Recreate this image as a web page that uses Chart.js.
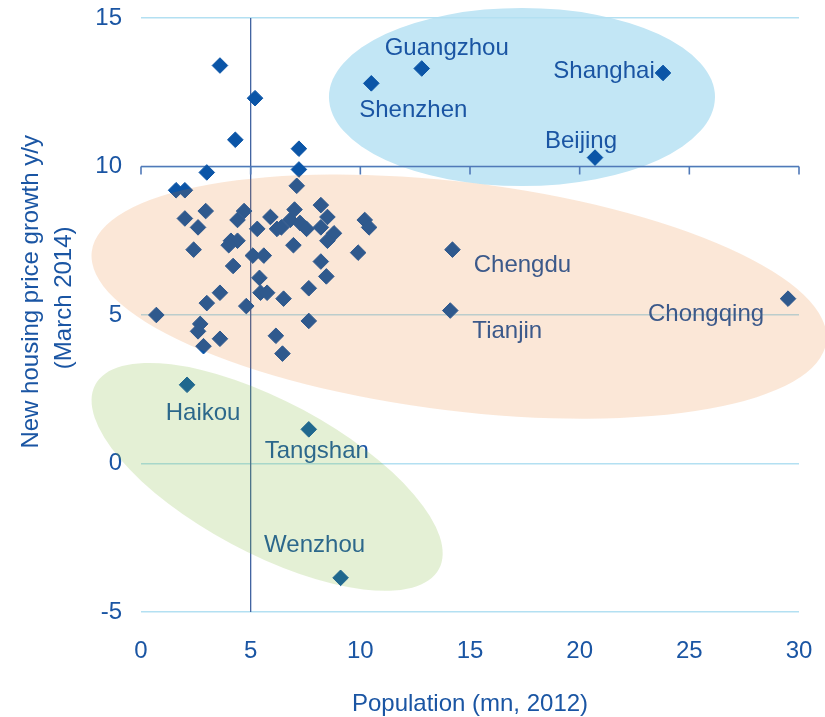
<!DOCTYPE html>
<html>
<head>
<meta charset="utf-8">
<script src="https://cdn.jsdelivr.net/npm/chart.js@4.4.1/dist/chart.umd.min.js"></script>
<style>
  html, body { margin: 0; padding: 0; background: #ffffff; }
  #wrap { width: 825px; height: 717px; position: relative; }
</style>
</head>
<body>
<div id="wrap"><canvas id="c" width="825" height="717"></canvas></div>
<script>
// ---------- DATA ----------
// Unlabelled cities: population (mn, 2012) and new housing price growth y/y (March 2014)
const otherPopulation = [
  3.6, 5.2, 4.3, 7.2, 7.2, 3.0,
  1.6, 2.0, 7.1, 2.0, 2.95, 2.6, 4.4, 4.7, 5.9, 5.3, 6.2,
  7.0, 8.2, 8.5, 6.8, 7.25, 7.55, 6.4, 8.2, 8.8, 8.5, 10.2, 10.4,
  2.4, 4.1, 4.4, 4.0, 5.1, 5.6, 6.95, 9.9, 4.2, 8.2, 8.45, 5.4,
  7.65, 5.45, 5.75, 3.6, 3.0, 4.8, 6.5, 0.7, 7.65, 2.7, 2.6,
  3.6, 2.85, 6.15, 6.45
];
const otherGrowth = [
  13.4, 12.3, 10.9, 10.6, 9.9, 9.8,
  9.2, 9.2, 9.35, 8.25, 8.5, 7.95, 8.2, 8.5, 8.3, 7.9, 7.9,
  8.55, 8.7, 8.3, 8.2, 8.1, 7.9, 7.95, 7.95, 7.75, 7.5, 8.2, 7.95,
  7.2, 7.5, 7.5, 7.35, 7.0, 7.0, 7.35, 7.1, 6.65, 6.8, 6.3, 6.25,
  5.9, 5.75, 5.75, 5.75, 5.4, 5.3, 5.55, 5.0, 4.8, 4.7, 4.45,
  4.2, 3.95, 4.3, 3.7
];
// Labelled cities
const cityNames      = ["Guangzhou", "Shenzhen", "Shanghai", "Beijing", "Chengdu", "Tianjin", "Chongqing", "Haikou", "Tangshan", "Wenzhou"];
const cityPopulation = [12.8, 10.5, 23.8, 20.7, 14.2, 14.1, 29.5, 2.1, 7.65, 9.1];
const cityGrowth     = [13.3, 12.8, 13.15, 10.3, 7.2, 5.15, 5.55, 2.65, 1.15, -3.85];

// Axis ticks
const xTickValues = [0, 5, 10, 15, 20, 25, 30];
const yTickValues = [-5, 0, 5, 10, 15];

// ---------- STYLE ----------
const FONT = "'Liberation Sans', Arial, Helvetica, sans-serif";
const TEXT = '#1a55a3';
const MARK = '#0b55a7';

// label placement (pixel offset from its point; text centered on dx, baseline at dy)
const labelStyle = {
  Guangzhou: { dx: 25, dy: -13 },
  Shenzhen:  { dx: 42, dy: 34 },
  Shanghai:  { dx: -59, dy: 5 },
  Beijing:   { dx: -14, dy: -10 },
  Chengdu:   { dx: 70, dy: 22 },
  Tianjin:   { dx: 57, dy: 27 },
  Chongqing: { dx: -82, dy: 22 },
  Haikou:    { dx: 16, dy: 35 },
  Tangshan:  { dx: 8, dy: 29 },
  Wenzhou:   { dx: -26, dy: -26 }
};

// shaded groups (centre in data units; radii in axis units; rotation in degrees)
const groupShapes = {
  tier1:  { cx: 17.37, cy: 12.34, rx: 8.8,  ry: 3.0,  rot: 0,    fill: '#c2e6f5', layer: 'back' },
  middle: { cx: 14.5,  cy: 5.62,  rx: 16.87, ry: 3.85, rot: 7,   fill: 'rgba(228,108,10,0.165)', layer: 'front' },
  weak:   { cx: 5.75,  cy: -0.45, rx: 8.89, ry: 2.56, rot: 28.2, fill: 'rgba(118,182,45,0.2)', layer: 'front' }
};

function drawShape(chart, s) {
  const xs = chart.scales.x, ys = chart.scales.y, ctx = chart.ctx;
  const cx = xs.getPixelForValue(s.cx), cy = ys.getPixelForValue(s.cy);
  const rx = Math.abs(xs.getPixelForValue(s.rx) - xs.getPixelForValue(0));
  const ry = Math.abs(ys.getPixelForValue(s.ry) - ys.getPixelForValue(0));
  ctx.save();
  ctx.beginPath();
  ctx.ellipse(cx, cy, rx, ry, s.rot * Math.PI / 180, 0, Math.PI * 2);
  ctx.fillStyle = s.fill;
  ctx.fill();
  ctx.restore();
}

const decorPlugin = {
  id: 'decor',
  beforeDraw(chart) {
    Object.values(groupShapes).filter(s => s.layer === 'back').forEach(s => drawShape(chart, s));
  },
  beforeDatasetsDraw(chart) {
    const ctx = chart.ctx, xs = chart.scales.x, ys = chart.scales.y, a = chart.chartArea;
    ctx.save();
    // vertical axis line at x = 5
    const x5 = xs.getPixelForValue(5);
    ctx.strokeStyle = '#3f62a0';
    ctx.lineWidth = 1.3;
    ctx.beginPath();
    ctx.moveTo(x5, a.top);
    ctx.lineTo(x5, a.bottom);
    ctx.stroke();
    // horizontal axis at y = 10 with tick marks
    const y10 = ys.getPixelForValue(10);
    ctx.strokeStyle = '#5079b8';
    ctx.lineWidth = 1.6;
    ctx.beginPath();
    ctx.moveTo(a.left, y10);
    ctx.lineTo(a.right, y10);
    xTickValues.forEach(v => {
      const px = xs.getPixelForValue(v);
      ctx.moveTo(px, y10);
      ctx.lineTo(px, y10 + 8);
    });
    ctx.stroke();
    ctx.restore();
  },
  afterDatasetsDraw(chart) {
    const ctx = chart.ctx, xs = chart.scales.x, ys = chart.scales.y;
    ctx.save();
    ctx.font = '24px ' + FONT;
    ctx.fillStyle = TEXT;
    ctx.textAlign = 'center';
    ctx.textBaseline = 'alphabetic';
    cityNames.forEach((name, i) => {
      const st = labelStyle[name];
      const px = xs.getPixelForValue(cityPopulation[i]);
      const py = ys.getPixelForValue(cityGrowth[i]);
      ctx.fillText(name, px + st.dx, py + st.dy);
    });
    ctx.restore();
    Object.values(groupShapes).filter(s => s.layer === 'front').forEach(s => drawShape(chart, s));
  },
  afterDraw(chart) {
    // y axis title (two lines, rotated)
    const ctx = chart.ctx, a = chart.chartArea;
    ctx.save();
    ctx.font = '24px ' + FONT;
    ctx.fillStyle = TEXT;
    ctx.textAlign = 'center';
    ctx.textBaseline = 'middle';
    const cy = a.top + (a.bottom - a.top) * 0.461;
    ctx.translate(31, cy);
    ctx.rotate(-Math.PI / 2);
    ctx.fillText('New housing price growth y/y', 0, 0);
    ctx.fillText('(March 2014)', -6, 33);
    ctx.restore();
  }
};

const otherPoints = otherPopulation.map((x, i) => ({ x: x, y: otherGrowth[i] }));
const cityPoints = cityPopulation.map((x, i) => ({ x: x, y: cityGrowth[i] }));

const pointStyleOpts = {
  pointStyle: 'rectRot',
  pointRadius: 7.8,
  pointBorderWidth: 1,
  backgroundColor: MARK,
  borderColor: MARK,
  pointHoverRadius: 7.8
};

new Chart(document.getElementById('c'), {
  type: 'scatter',
  data: {
    datasets: [
      Object.assign({ label: 'Other cities', data: otherPoints }, pointStyleOpts),
      Object.assign({ label: 'Labelled cities', data: cityPoints }, pointStyleOpts)
    ]
  },
  options: {
    responsive: false,
    animation: false,
    devicePixelRatio: 1,
    layout: { padding: { top: 18, right: 26, left: 0, bottom: 0 } },
    plugins: { legend: { display: false }, tooltip: { enabled: false }, title: { display: false } },
    scales: {
      x: {
        type: 'linear',
        min: 0, max: 30,
        afterBuildTicks(scale) { scale.ticks = xTickValues.map(v => ({ value: v })); },
        afterFit(scale) { scale.height = 105; scale.paddingLeft = 0; scale.paddingRight = 0; },
        grid: { display: false, drawTicks: false },
        border: { display: false },
        ticks: { color: TEXT, font: { family: FONT, size: 24 }, padding: 25, maxRotation: 0 },
        title: { display: true, text: 'Population (mn, 2012)', color: TEXT, font: { family: FONT, size: 24 }, padding: { top: 0, bottom: -2 } }
      },
      y: {
        type: 'linear',
        min: -5, max: 15,
        afterBuildTicks(scale) { scale.ticks = yTickValues.map(v => ({ value: v })); },
        afterFit(scale) { scale.width = 141; scale.paddingTop = 0; scale.paddingBottom = 0; },
        grid: { color: '#b3e0f2', lineWidth: 1.4, drawTicks: false },
        border: { display: false },
        ticks: { color: TEXT, font: { family: FONT, size: 24 }, padding: 19 }
      }
    }
  },
  plugins: [decorPlugin]
});
</script>
</body>
</html>
